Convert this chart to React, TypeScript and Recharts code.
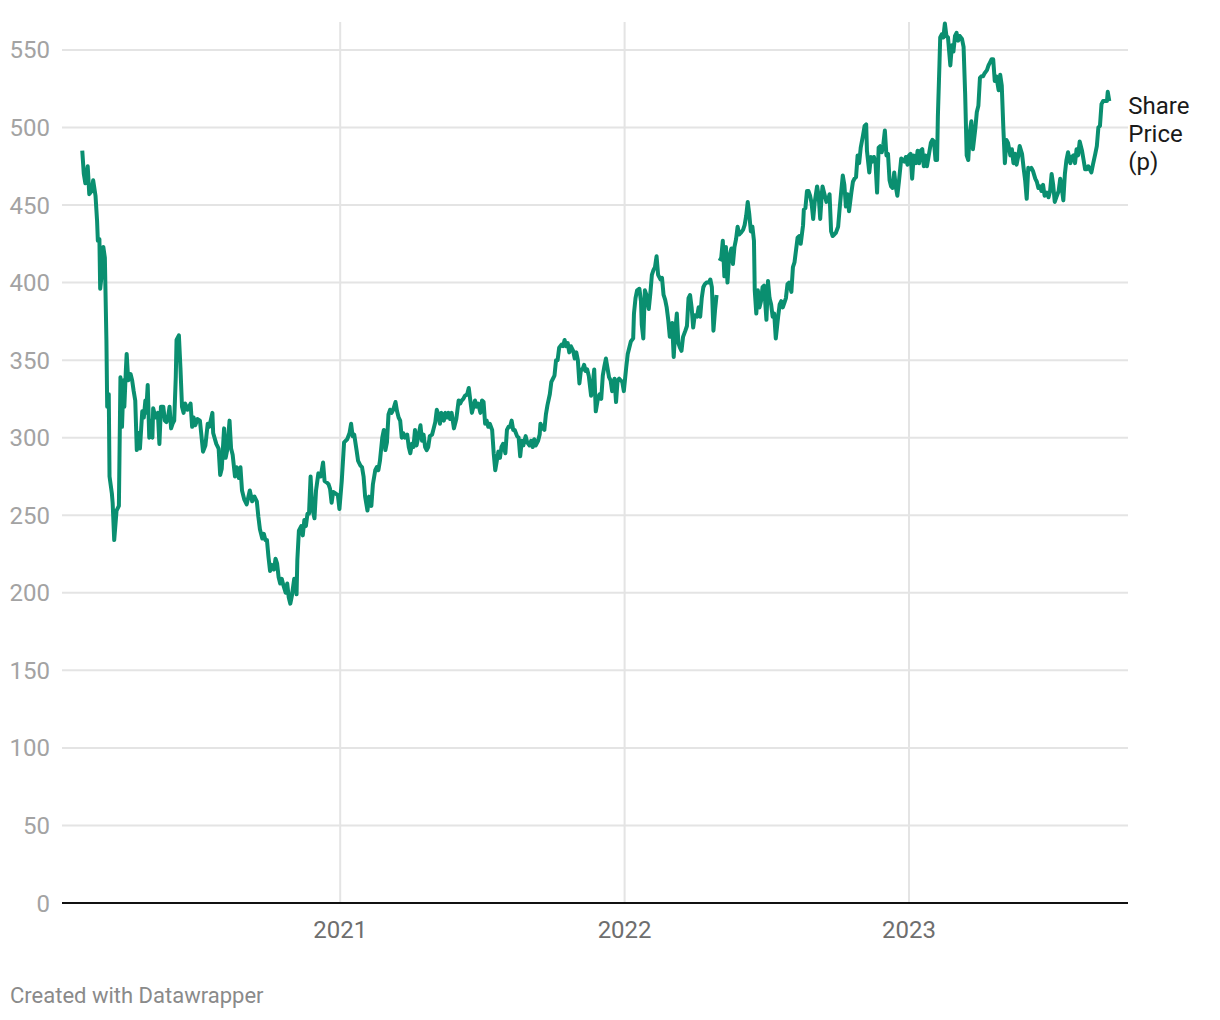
import React from 'react';
import { LineChart, Line, XAxis, YAxis, CartesianGrid } from 'recharts';

// day offsets counted from 1 Jan 2020
const START_DATE = '2020-01-01';

const dayOffsets = [
  35, 37, 39, 42, 44, 47, 49, 52, 54, 55,
  57, 58, 61, 62, 64, 66, 67, 69, 70, 73,
  74, 76, 79, 82, 84, 86, 88, 89, 91, 92,
  94, 97, 99, 101, 103, 105, 107, 109, 112, 114,
  116, 117, 119, 121, 123, 125, 126, 129, 132, 134,
  136, 139, 141, 143, 145, 147, 149, 151, 153, 155,
  156, 159, 161, 163, 165, 167, 170, 174, 176, 178,
  180, 183, 186, 190, 193, 196, 198, 202, 203, 207,
  210, 212, 214, 217, 219, 221, 224, 226, 228, 231,
  233, 236, 238, 240, 243, 246, 250, 253, 256, 259,
  261, 263, 266, 268, 270, 272, 274, 276, 278, 281,
  283, 285, 287, 289, 291, 293, 296, 298, 300, 302,
  304, 307, 310, 311, 313, 316, 318, 320, 322, 324,
  326, 328, 330, 333, 335, 338, 341, 344, 346, 349,
  351, 353, 355, 357, 360, 363, 365, 368, 371, 375,
  378, 380, 382, 384, 387, 389, 392, 394, 396, 398,
  401, 403, 406, 408, 411, 413, 415, 417, 420, 422,
  424, 426, 428, 430, 432, 434, 437, 439, 441, 443,
  445, 447, 449, 452, 454, 456, 458, 460, 462, 464,
  466, 469, 471, 473, 475, 477, 479, 481, 484, 486,
  488, 490, 492, 494, 496, 499, 501, 503, 505, 507,
  509, 512, 515, 518, 520, 522, 524, 526, 529, 531,
  533, 535, 537, 539, 541, 543, 546, 548, 550, 552,
  554, 556, 558, 561, 563, 565, 567, 569, 571, 573,
  575, 578, 580, 582, 584, 586, 588, 590, 593, 595,
  597, 599, 601, 604, 606, 609, 611, 613, 615, 617,
  620, 622, 623, 626, 628, 630, 632, 635, 637, 639,
  641, 643, 645, 647, 650, 652, 654, 656, 658, 660,
  662, 665, 667, 669, 671, 673, 675, 677, 679, 681,
  683, 685, 688, 690, 692, 694, 697, 699, 701, 703,
  705, 707, 709, 711, 713, 715, 718, 720, 722, 724,
  726, 728, 730, 733, 735, 737, 739, 742, 743, 745,
  747, 750, 752, 753, 755, 757, 759, 762, 764, 766,
  768, 770, 772, 774, 777, 779, 781, 783, 785, 787,
  789, 792, 794, 796, 798, 800, 802, 804, 806, 809,
  811, 813, 815, 817, 819, 821, 824, 826, 828, 830,
  832, 834, 836, 839, 841, 843, 845, 847, 849, 851,
  853, 855, 857, 859, 861, 863, 865, 868, 870, 872,
  874, 876, 878, 880, 883, 885, 887, 889, 891, 893,
  895, 897, 898, 900, 902, 904, 906, 908, 910, 913,
  915, 917, 919, 921, 923, 925, 928, 930, 932, 934,
  936, 938, 940, 942, 945, 947, 949, 951, 953, 955,
  957, 960, 961, 963, 965, 967, 969, 971, 973, 975,
  978, 980, 982, 984, 985, 987, 990, 992, 994, 996,
  998, 1000, 1002, 1005, 1007, 1009, 1011, 1013, 1015, 1017,
  1019, 1022, 1024, 1026, 1028, 1030, 1032, 1034, 1037, 1039,
  1041, 1042, 1045, 1047, 1049, 1051, 1053, 1055, 1057, 1059,
  1061, 1063, 1065, 1067, 1069, 1071, 1073, 1075, 1077, 1079,
  1081, 1083, 1086, 1088, 1090, 1092, 1094, 1096, 1098, 1100,
  1102, 1105, 1107, 1109, 1111, 1113, 1115, 1117, 1119, 1122,
  1124, 1126, 1128, 1130, 1132, 1133, 1135, 1136, 1138, 1140,
  1142, 1144, 1146, 1149, 1151, 1153, 1155, 1157, 1159, 1161,
  1164, 1166, 1168, 1170, 1172, 1174, 1176, 1178, 1181, 1183,
  1185, 1187, 1189, 1191, 1193, 1196, 1198, 1200, 1202, 1204,
  1206, 1208, 1211, 1213, 1215, 1217, 1219, 1221, 1223, 1226,
  1228, 1230, 1232, 1234, 1236, 1238, 1241, 1243, 1245, 1247,
  1249, 1251, 1253, 1255, 1258, 1260, 1262, 1264, 1266, 1268,
  1270, 1273, 1275, 1277, 1279, 1281, 1283, 1285, 1288, 1290,
  1292, 1294, 1296, 1298, 1300, 1303, 1305, 1307, 1309, 1311,
  1313, 1315, 1318, 1320, 1322, 1324, 1326, 1328, 1330, 1332,
  1335, 1337, 1339, 1341, 1343, 1345, 1347, 1350, 1351, 1353,
];

// share price in pence (null = missing data)
const sharePrice: (number | null)[] = [
  485, 470, 464, 475, 457, 459, 466, 456, 440, 427,
  428, 396, 410, 423, 416, 363, 320, 328, 275, 264,
  258, 234, 253, 256, 339, 307, 337, 320, 344, 354,
  337, 341, 337, 330, 324, 292, 303, 293, 317, 313,
  324, 316, 334, 300, 311, 300, 319, 313, 316, 296,
  320, 320, 311, 310, 313, 320, 306, 309, 311, 339,
  363, 366, 345, 320, 316, 322, 318, 322, 307, 313,
  308, 312, 311, 291, 295, 309, 307, 316, 303, 296,
  293, 276, 280, 306, 287, 292, 311, 293, 289, 275,
  281, 274, 281, 266, 260, 257, 266, 259, 262, 259,
  249, 241, 235, 238, 234, 234, 223, 214, 218, 215,
  222, 219, 210, 206, 209, 205, 200, 206, 197, 193,
  198, 209, 199, 221, 240, 243, 237, 247, 243, 251,
  251, 275, 255, 248, 266, 277, 275, 284, 272, 271,
  270, 267, 258, 265, 264, 263, 254, 272, 297, 299,
  303, 309, 301, 302, 292, 285, 282, 281, 275, 262,
  253, 262, 256, 270, 279, 281, 279, 285, 300, 305,
  292, 297, 315, 318, 316, 318, 323, 317, 313, 311,
  300, 303, 300, 302, 294, 290, 296, 294, 305, 295,
  300, 308, 298, 302, 294, 292, 294, 301, 302, 306,
  310, 318, 315, 309, 316, 311, 316, 313, 316, 312,
  316, 306, 312, 324, 322, 324, 325, 327, 328, 332,
  324, 316, 320, 324, 320, 322, 316, 324, 323, 309,
  311, 307, 309, 305, 290, 279, 285, 291, 287, 294,
  296, 290, 305, 307, 307, 311, 305, 305, 301, 300,
  288, 298, 295, 301, 297, 295, 298, 294, 299, 295,
  298, 302, 309, 306, 305, 315, 321, 328, 336, 338,
  340, 350, 350, 358, 360, 359, 363, 359, 361, 355,
  359, 356, 351, 355, 350, 335, 344, 344, 347, 343,
  344, 340, 327, 334, 344, 317, 326, 328, 325, 340,
  346, 351, 345, 339, 337, 330, 338, 323, 337, 338,
  337, 336, 330, 345, 354, 358, 362, 364, 380, 390,
  395, 396, 388, 373, 364, 395, 392, 383, 393, 405,
  408, 410, 417, 405, 402, 403, 392, 389, 384, 376,
  365, 374, 352, 369, 380, 361, 358, 356, 365, 369,
  372, 390, 392, 384, 371, 379, 378, 384, 378, 390,
  397, 399, 400, 400, 402, 397, 369, 382, 392, null,
  414, 416, 427, 404, 423, 400, 416, 422, 412, 423,
  428, 436, 431, 432, 434, 437, 443, 452, 444, 433,
  436, 427, 395, 380, 395, 384, 388, 397, 398, 376,
  401, 390, 386, 378, 380, 364, 378, 386, 388, 384,
  387, 390, 399, 400, 394, 410, 413, 421, 429, 430,
  425, 437, 447, 448, 459, 459, 456, 451, 441, 452,
  462, 456, 441, 457, 462, 458, 452, 453, 457, 433,
  430, 431, 432, 436, 448, 459, 469, 463, 449, 457,
  446, 458, 465, 467, 468, 482, 477, 487, 495, 501,
  502, 485, 471, 481, 478, 481, 477, 458, 487, 488,
  484, 489, 498, 482, 483, 466, 462, 461, 471, 462,
  456, 465, 480, 479, 478, 481, 476, 482, 483, 467,
  482, 477, 485, 477, 485, 486, 475, 482, 475, 484,
  490, 492, 491, 479, 479, 507, 540, 558, 560, 558,
  567, 559, 558, 540, 553, 549, 559, 561, 556, 559,
  557, 552, 522, 482, 479, 497, 504, 486, 499, 510,
  514, 532, 533, 533, 535, 537, 540, 542, 544, 544,
  530, 533, 524, 534, 527, 500, 477, 492, 490, 482,
  486, 477, 483, 476, 481, 488, 483, 474, 466, 454,
  474, 473, 474, 472, 467, 465, 461, 462, 459, 463,
  456, 458, 455, 459, 470, 463, 452, 455, 459, 467,
  461, 453, 470, 479, 484, 477, 481, 482, 477, 486,
  482, 491, 485, 479, 473, 473, 475, 473, 471, 476,
  483, 488, 500, 501, 515, 517, 517, 517, 523, 517,
];

const yearTicks = [366, 731, 1096];
const yearLabels = ['2021', '2022', '2023'];
const priceTicks = [0, 50, 100, 150, 200, 250, 300, 350, 400, 450, 500, 550];

const data = dayOffsets.map((d, i) => ({ day: d, price: sharePrice[i] }));

const FONT = 'Roboto, "Noto Sans", sans-serif';

const renderEndLabel = (props: any) => {
  const { x, y, index } = props;
  if (index !== data.length - 1) return null;
  const lx = x + 19;
  return (
    <text x={lx} y={y + 13} fill="#1a1a1a" fontSize={24} fontFamily={FONT}>
      <tspan x={lx} dy={0}>Share</tspan>
      <tspan x={lx} dy={28}>Price</tspan>
      <tspan x={lx} dy={28}>(p)</tspan>
    </text>
  );
};

const App: React.FC = () => {
  return (
    <div style={{ position: 'absolute', left: 0, top: 0, width: 1220, height: 1020, background: '#fff', fontFamily: FONT }}>
      <LineChart width={1220} height={946} data={data} margin={{ top: 22, right: 92, bottom: 0, left: 0 }}>
        <CartesianGrid stroke="#e4e4e4" strokeWidth={2} syncWithTicks />
        <XAxis
          dataKey="day"
          type="number"
          domain={[9, 1377]}
          ticks={yearTicks}
          tickFormatter={(v: number) => yearLabels[yearTicks.indexOf(v)]}
          height={43}
          axisLine={{ stroke: '#111', strokeWidth: 2 }}
          tickLine={false}
          tickSize={0}
          tickMargin={18}
          tick={{ fill: '#6e6e6e', fontSize: 24, fontFamily: FONT }}
        />
        <YAxis
          type="number"
          domain={[0, 568]}
          ticks={priceTicks}
          width={62}
          axisLine={false}
          tickLine={false}
          tickSize={0}
          tickMargin={12}
          tick={{ fill: '#a3a3a3', fontSize: 24, fontFamily: FONT }}
        />
        <Line
          type="linear"
          dataKey="price"
          stroke="#0a8f70"
          strokeWidth={4}
          strokeLinejoin="round"
          dot={false}
          activeDot={false}
          isAnimationActive={false}
          label={renderEndLabel}
        />
      </LineChart>
      <div style={{ position: 'absolute', left: 10, top: 983, fontSize: 22, color: '#8a8a8a' }}>
        Created with Datawrapper
      </div>
    </div>
  );
};

export default App;
